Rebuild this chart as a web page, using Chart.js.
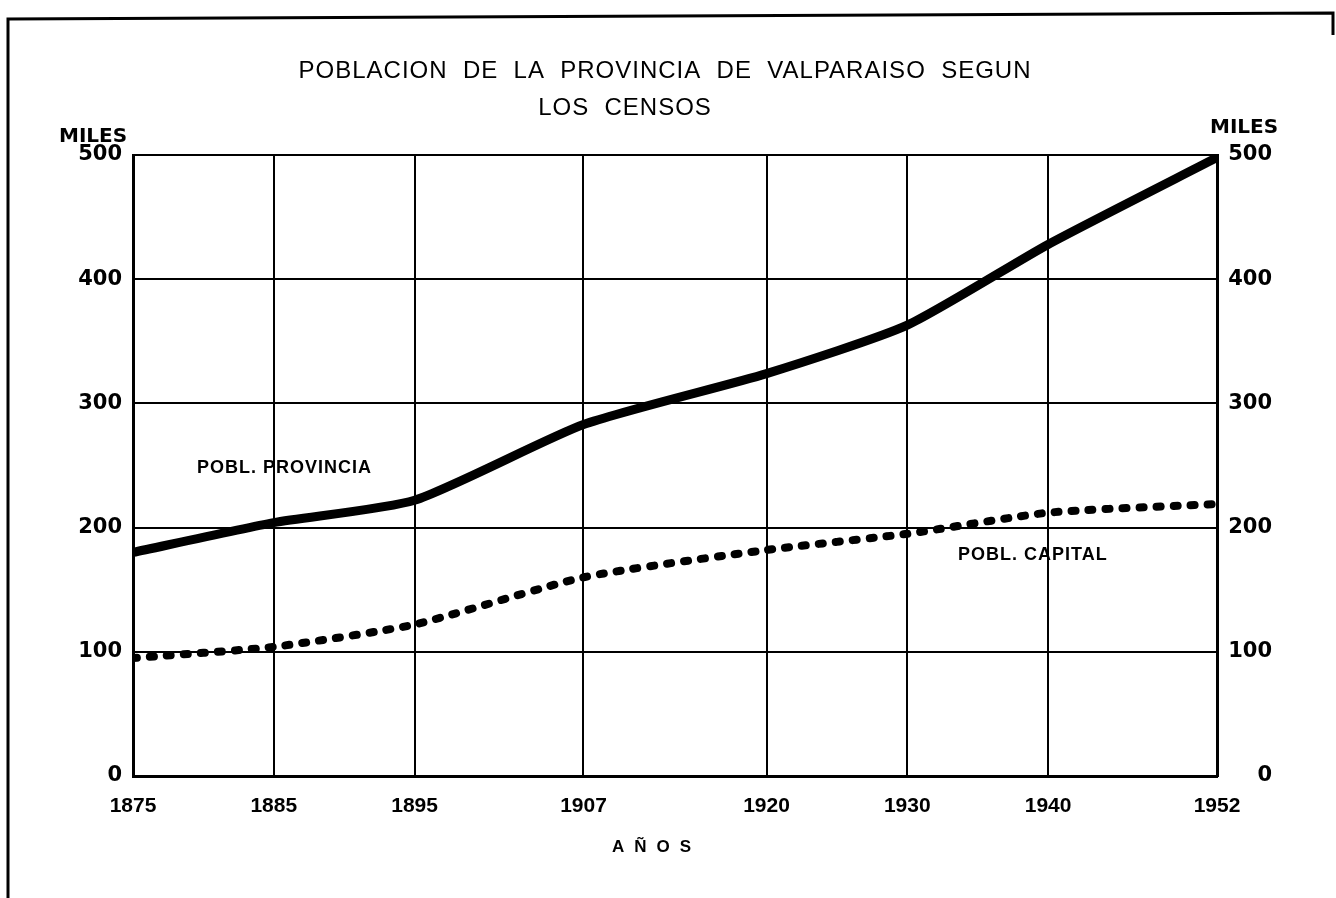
<!DOCTYPE html>
<html lang="es">
<head>
    <meta charset="UTF-8">
    <title>Poblacion de la Provincia de Valparaiso segun los censos</title>
    <script src="https://cdn.jsdelivr.net/npm/chart.js"></script>
    <style>
        html, body { margin: 0; padding: 0; background: #fff; }
        #wrap { width: 1336px; height: 898px; position: relative; }
    </style>
</head>
<body>
    <div id="wrap"><canvas id="censos"></canvas></div>

    <script>
        // años de los censos y población en miles
        const censos = [1875, 1885, 1895, 1907, 1920, 1930, 1940, 1952];
        const poblProvincia = [180, 204, 222, 283, 324, 363, 428, 498];
        const poblCapital = [95, 104, 122, 160, 182, 195, 212, 219];
        const milesTicks = [0, 100, 200, 300, 400, 500];

        const tinta = '#000';

        // marco, titulo y rotulos
        const rotulos = {
            id: 'rotulos',
            beforeDraw(chart) {
                const ctx = chart.ctx;
                ctx.save();
                ctx.fillStyle = '#fff';
                ctx.fillRect(0, 0, chart.width, chart.height);
                ctx.strokeStyle = tinta;
                ctx.lineWidth = 3;
                ctx.beginPath();
                ctx.moveTo(8, 898);
                ctx.lineTo(8, 19);
                ctx.lineTo(1333, 13);
                ctx.lineTo(1333, 35);
                ctx.stroke();
                ctx.restore();
            },
            afterDraw(chart) {
                const ctx = chart.ctx;
                ctx.save();
                ctx.fillStyle = tinta;
                ctx.textBaseline = 'alphabetic';
                ctx.textAlign = 'center';
                ctx.font = '24px "Liberation Sans"';
                ctx.letterSpacing = '1px';
                ctx.fillText('POBLACION  DE  LA  PROVINCIA  DE  VALPARAISO  SEGUN', 665, 78);
                ctx.fillText('LOS  CENSOS', 625, 115);

                ctx.font = 'bold 20px "DejaVu Sans"';
                ctx.letterSpacing = '0px';
                ctx.textAlign = 'left';
                ctx.fillText('MILES', 59, 142);
                ctx.fillText('MILES', 1210, 133);

                ctx.font = 'bold 18px "Liberation Sans"';
                ctx.letterSpacing = '1px';
                ctx.fillText('POBL. PROVINCIA', 197, 473);
                ctx.fillText('POBL. CAPITAL', 958, 560);

                ctx.font = 'bold 17px "Liberation Sans"';
                ctx.letterSpacing = '10px';
                ctx.fillText('AÑOS', 612, 852);
                ctx.restore();
            }
        };

        const ctx = document.getElementById('censos').getContext('2d');
        new Chart(ctx, {
            type: 'line',
            data: {
                datasets: [{
                    label: 'Pobl. provincia',
                    data: censos.map((a, i) => ({ x: a, y: poblProvincia[i] })),
                    borderColor: tinta,
                    borderWidth: 9,
                    pointRadius: 0,
                    tension: 0.2,
                    yAxisID: 'y'
                }, {
                    label: 'Pobl. capital',
                    data: censos.map((a, i) => ({ x: a, y: poblCapital[i] })),
                    borderColor: tinta,
                    borderWidth: 8,
                    borderDash: [4, 13],
                    borderCapStyle: 'round',
                    pointRadius: 0,
                    tension: 0.2,
                    yAxisID: 'y'
                }]
            },
            options: {
                responsive: true,
                maintainAspectRatio: false,
                animation: false,
                layout: { padding: { top: 155, left: 0, right: 64, bottom: 0 } },
                plugins: {
                    legend: { display: false },
                    tooltip: { enabled: false }
                },
                scales: {
                    x: {
                        type: 'linear',
                        min: censos[0],
                        max: censos[censos.length - 1],
                        afterBuildTicks: s => { s.ticks = censos.map(v => ({ value: v })); },
                        afterFit: s => { s.height = 122; },
                        grid: { color: tinta, lineWidth: 2, drawTicks: false },
                        border: { color: tinta, width: 3 },
                        ticks: {
                            color: tinta,
                            padding: 18,
                            font: { family: 'Liberation Sans', weight: 'bold', size: 21 },
                            callback: v => String(v)
                        }
                    },
                    y: {
                        position: 'left',
                        min: 0,
                        max: 500,
                        afterBuildTicks: s => { s.ticks = milesTicks.map(v => ({ value: v })); },
                        afterFit: s => { s.width = 133; },
                        grid: { color: tinta, lineWidth: 2, drawTicks: false },
                        border: { color: tinta, width: 3 },
                        ticks: {
                            color: tinta,
                            padding: 11,
                            font: { family: 'DejaVu Sans', weight: 'bold', size: 21 }
                        }
                    },
                    y2: {
                        position: 'right',
                        min: 0,
                        max: 500,
                        afterBuildTicks: s => { s.ticks = milesTicks.map(v => ({ value: v })); },
                        afterFit: s => { s.width = 55; },
                        grid: { display: false, drawTicks: false },
                        border: { color: tinta, width: 3 },
                        ticks: {
                            color: tinta,
                            padding: 11,
                            crossAlign: 'far',
                            font: { family: 'DejaVu Sans', weight: 'bold', size: 21 }
                        }
                    }
                }
            },
            plugins: [rotulos]
        });
    </script>
</body>
</html>
